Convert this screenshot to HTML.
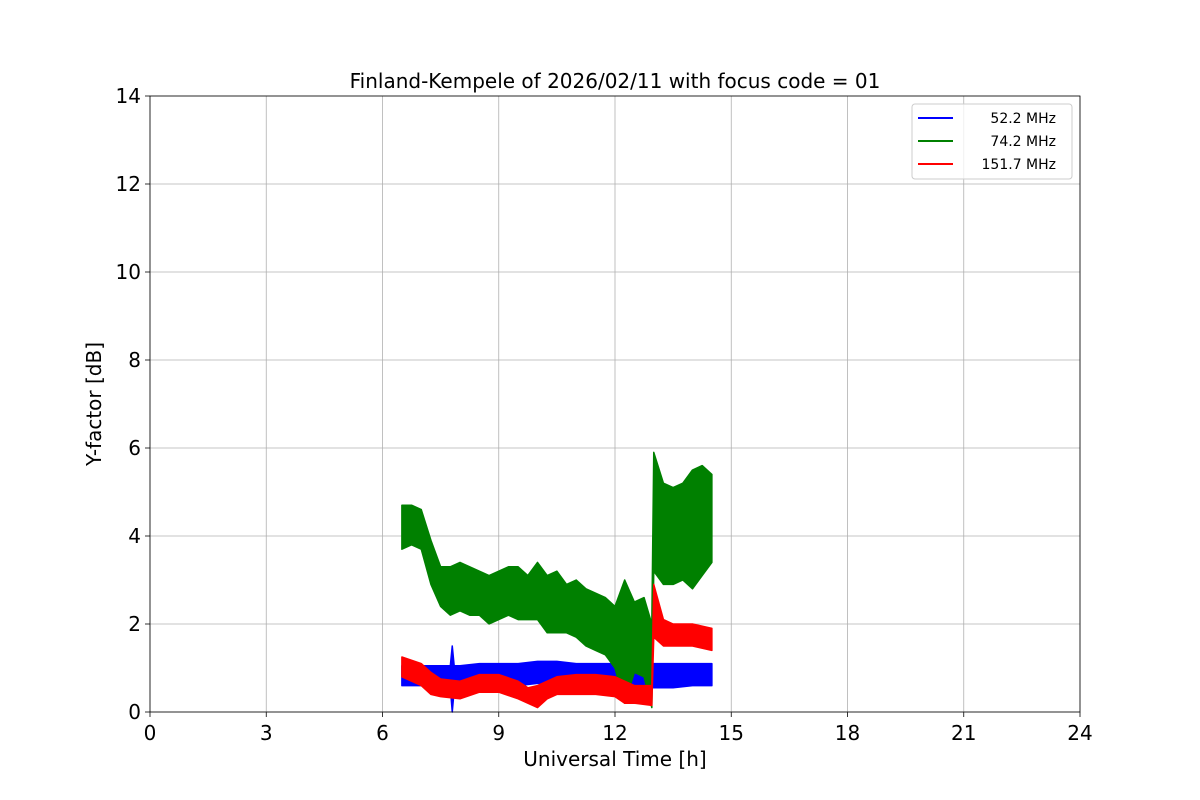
<!DOCTYPE html>
<html><head><meta charset="utf-8"><style>
body{margin:0;background:#fff;}
svg{display:block;font-family:"DejaVu Sans","Liberation Sans",sans-serif;}
</style></head><body>
<svg id="chart" width="1200" height="800"></svg>
<script>
const xTicks=[0,3,6,9,12,15,18,21,24];
const yTicks=[0,2,4,6,8,10,12,14];
const greenT=[6.5,6.75,7.0,7.25,7.5,7.75,8.0,8.25,8.5,8.75,9.0,9.25,9.5,9.75,10.0,10.25,10.5,10.75,11.0,11.25,11.5,11.75,12.0,12.25,12.5,12.75,12.95,13.0,13.25,13.5,13.75,14.0,14.25,14.5];
const greenLo=[3.7,3.8,3.7,2.9,2.4,2.2,2.3,2.2,2.2,2.0,2.1,2.2,2.1,2.1,2.1,1.8,1.8,1.8,1.7,1.5,1.4,1.3,1.0,0.2,0.9,0.8,0.1,3.2,2.9,2.9,3.0,2.8,3.1,3.4];
const greenHi=[4.7,4.7,4.6,3.9,3.3,3.3,3.4,3.3,3.2,3.1,3.2,3.3,3.3,3.1,3.4,3.1,3.2,2.9,3.0,2.8,2.7,2.6,2.4,3.0,2.5,2.6,2.0,5.9,5.2,5.1,5.2,5.5,5.6,5.4];
const blueT=[6.5,7.0,7.5,7.75,7.8,7.85,8.0,8.5,9.0,9.5,10.0,10.5,11.0,11.5,12.0,12.5,13.0,13.5,14.0,14.5];
const blueLo=[0.6,0.6,0.55,0.55,0.0,0.5,0.6,0.6,0.6,0.6,0.65,0.65,0.65,0.65,0.6,0.6,0.55,0.55,0.6,0.6];
const blueHi=[1.05,1.05,1.05,1.05,1.5,1.05,1.05,1.1,1.1,1.1,1.15,1.15,1.1,1.1,1.1,1.1,1.1,1.1,1.1,1.1];
const redT=[6.5,7.0,7.25,7.5,8.0,8.5,9.0,9.5,9.75,10.0,10.25,10.5,11.0,11.5,12.0,12.25,12.5,12.95,13.0,13.25,13.5,14.0,14.5];
const redLo=[0.8,0.6,0.4,0.35,0.3,0.45,0.45,0.3,0.2,0.1,0.3,0.4,0.4,0.4,0.35,0.2,0.2,0.15,1.7,1.5,1.5,1.5,1.4];
const redHi=[1.25,1.1,0.9,0.75,0.7,0.85,0.85,0.7,0.55,0.6,0.7,0.8,0.85,0.85,0.8,0.7,0.6,0.6,2.9,2.1,2.0,2.0,1.9];

const L=150,R=1080,T=96,B=712;
const xS=v=>L+(v/24)*(R-L);
const yS=v=>B-(v/14)*(B-T);
const svg=document.getElementById('chart');
const NS='http://www.w3.org/2000/svg';
function mk(tag,attrs,parent){const e=document.createElementNS(NS,tag);for(const k in attrs)e.setAttribute(k,attrs[k]);(parent||svg).appendChild(e);return e;}

xTicks.forEach(t=>{
  const g=mk('line',{x1:xS(t),x2:xS(t),y1:T,y2:B,stroke:'#b0b0b0','stroke-width':0.8});
  
  
  const tk=mk('line',{x1:xS(t),x2:xS(t),y1:B,y2:B+5,stroke:'#000','stroke-width':0.8});
  
  
  const tx=mk('text',{x:xS(t),y:B+28,'font-size':20,'text-anchor':'middle'});
  tx.textContent=t;
  
  
});
yTicks.forEach(t=>{
  const g=mk('line',{x1:L,x2:R,y1:yS(t),y2:yS(t),stroke:'#b0b0b0','stroke-width':0.8});
  
  
  const tk=mk('line',{x1:L-5,x2:L,y1:yS(t),y2:yS(t),stroke:'#000','stroke-width':0.8});
  
  
  const tx=mk('text',{x:L-9,y:yS(t)+7,'font-size':20,'text-anchor':'end'});
  tx.textContent=t;
  
  
});

function band(ts,lo,hi,color,name){
  let d='';
  ts.forEach((t,i)=>{d+=(i?'L':'M')+xS(t)+','+yS(hi[i]);});
  for(let i=ts.length-1;i>=0;i--)d+='L'+xS(ts[i])+','+yS(lo[i]);
  d+='Z';
  const p=mk('path',{d:d,fill:color,stroke:color,'stroke-width':1.5,'stroke-linejoin':'round'});
  
  
}
band(blueT,blueLo,blueHi,'#0000ff','series-52-2-mhz');
band(greenT,greenLo,greenHi,'#008000','series-74-2-mhz');
band(redT,redLo,redHi,'#ff0000','series-151-7-mhz');

const fr=mk('rect',{x:L,y:T,width:R-L,height:B-T,fill:'none',stroke:'#000','stroke-width':0.8});



const ti=mk('text',{x:615,y:88,'font-size':20,'text-anchor':'middle'});
ti.textContent='Finland-Kempele of 2026/02/11 with focus code = 01';


const xl=mk('text',{x:615,y:766,'font-size':20,'text-anchor':'middle'});
xl.textContent='Universal Time [h]';


const yl=mk('text',{x:0,y:0,'font-size':20,'text-anchor':'middle',transform:'translate(101,404) rotate(-90)'});
yl.textContent='Y-factor [dB]';



const lg=mk('rect',{x:912,y:104,width:160,height:75,rx:3,fill:'#fff','fill-opacity':0.8,stroke:'#ccc'});


const legNames=['52.2 MHz','74.2 MHz','151.7 MHz'];
const legColors=['#0000ff','#008000','#ff0000'];
legNames.forEach((n,i)=>{
  const y=118+i*23;
  const ln=mk('line',{x1:918,x2:953,y1:y,y2:y,stroke:legColors[i],'stroke-width':2});
  
  
  const tx=mk('text',{x:1056,y:y+5,'font-size':14,'text-anchor':'end'});
  tx.textContent=n;
  
  
});
</script>
</body></html>
